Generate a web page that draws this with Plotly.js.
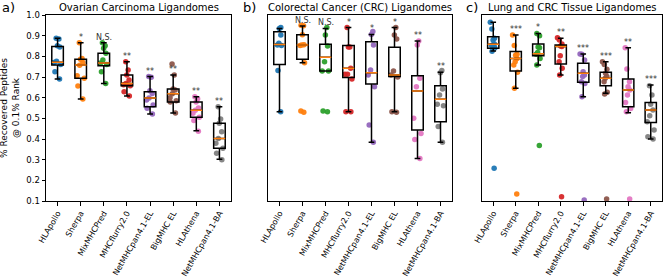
<!DOCTYPE html>
<html><head><meta charset="utf-8">
<script src="https://cdn.plot.ly/plotly-3.0.1.min.js"></script>
<style>html,body{margin:0;padding:0;background:#fff}#chart{width:667px;height:277px}</style>
</head><body><div id="chart"></div>
<script>
// Categories / tick labels
const methods = ['HLApollo','Sherpa','MixMHCPred','MHCflurry2.0','NetMHCpan4.1-EL','BigMHC EL','HLAthena','NetMHCpan4.1-BA'];
const colors = ['#1f77b4','#ff7f0e','#2ca02c','#d62728','#9467bd','#8c564b','#e377c2','#7f7f7f'];
const panelTitles = ['Ovarian Carcinoma Ligandomes','Colorectal Cancer (CRC) Ligandomes','Lung and CRC Tissue Ligandomes'];
const panelLetters = ['a)','b)','c)'];
const yTicks = [0.1,0.2,0.3,0.4,0.5,0.6,0.7,0.8,0.9,1.0];

// Panel a) Ovarian carcinoma: box statistics
const q1A  = [0.758,0.694,0.755,0.658,0.556,0.579,0.505,0.355];
const medA = [0.771,0.758,0.768,0.668,0.598,0.619,0.539,0.402];
const q3A  = [0.847,0.786,0.815,0.710,0.629,0.642,0.579,0.476];
const loA  = [0.690,0.594,0.669,0.608,0.521,0.526,0.440,0.302];
const hiA  = [0.887,0.866,0.866,0.774,0.702,0.710,0.605,0.556];
const sigA = ['','*','N.S.','**','**','**','**','**'];
// Panel a) per-sample points
const ptsA_HLApollo = [0.887,0.884,0.851,0.845,0.776,0.770,0.761,0.726,0.690];
const ptsA_Sherpa   = [0.866,0.790,0.786,0.770,0.757,0.706,0.694,0.657,0.594];
const ptsA_MixMHC   = [0.866,0.851,0.839,0.815,0.782,0.768,0.760,0.726,0.669];
const ptsA_Flurry   = [0.774,0.734,0.710,0.686,0.668,0.662,0.658,0.629,0.608];
const ptsA_NetEL    = [0.702,0.699,0.634,0.620,0.598,0.589,0.565,0.549,0.521];
const ptsA_BigMHC   = [0.763,0.710,0.642,0.637,0.619,0.600,0.585,0.579,0.526];
const ptsA_HLAthena = [0.605,0.595,0.579,0.550,0.539,0.525,0.505,0.490,0.437];
const ptsA_NetBA    = [0.556,0.497,0.476,0.435,0.403,0.380,0.355,0.331,0.300];

// Panel b) Colorectal cancer: box statistics
const q1B  = [0.761,0.786,0.729,0.697,0.666,0.702,0.444,0.484];
const medB = [0.857,0.855,0.795,0.742,0.721,0.710,0.632,0.592];
const q3B  = [0.919,0.905,0.858,0.852,0.871,0.844,0.706,0.658];
const loB  = [0.532,0.769,0.729,0.532,0.384,0.532,0.306,0.384];
const hiB  = [0.935,0.947,0.935,0.939,0.906,0.939,0.874,0.723];
const sigB = ['','N.S.','N.S.','*','*','*','**','**'];
const ptsB_HLApollo = [0.940,0.935,0.903,0.863,0.855,0.852,0.731,0.532];
const ptsB_Sherpa   = [0.950,0.948,0.905,0.856,0.855,0.853,0.769,0.535,0.530];
const ptsB_MixMHC   = [0.939,0.903,0.850,0.774,0.729,0.729,0.535,0.532];
const ptsB_Flurry   = [0.939,0.845,0.845,0.742,0.713,0.713,0.690,0.532,0.532];
const ptsB_NetEL    = [0.920,0.906,0.855,0.734,0.710,0.653,0.468,0.384];
const ptsB_BigMHC   = [0.939,0.903,0.884,0.729,0.710,0.700,0.532,0.529];
const ptsB_HLAthena = [0.874,0.855,0.694,0.653,0.500,0.427,0.398,0.306];
const ptsB_NetBA    = [0.731,0.720,0.642,0.613,0.568,0.561,0.460,0.384];

// Panel c) Lung and CRC tissue: box statistics
const q1C  = [0.839,0.729,0.803,0.763,0.674,0.658,0.556,0.480];
const medC = [0.858,0.790,0.813,0.847,0.718,0.694,0.637,0.540];
const q3C  = [0.895,0.823,0.860,0.855,0.766,0.723,0.690,0.577];
const loC  = [0.826,0.645,0.758,0.710,0.605,0.621,0.527,0.400];
const hiC  = [0.965,0.903,0.911,0.887,0.811,0.774,0.842,0.661];
const sigC = ['','***','*','**','***','***','**','***'];
const ptsC_HLApollo = [0.965,0.932,0.887,0.879,0.860,0.855,0.852,0.840,0.825,0.258];
const ptsC_Sherpa   = [0.903,0.852,0.810,0.805,0.790,0.774,0.758,0.723,0.645,0.134];
const ptsC_MixMHC   = [0.911,0.900,0.845,0.842,0.819,0.810,0.790,0.758,0.368];
const ptsC_Flurry   = [0.890,0.879,0.860,0.850,0.847,0.803,0.774,0.742,0.710,0.121];
const ptsC_NetEL    = [0.811,0.810,0.782,0.726,0.710,0.702,0.677,0.669,0.605,0.105];
const ptsC_BigMHC   = [0.774,0.761,0.737,0.718,0.702,0.694,0.677,0.626,0.618,0.110];
const ptsC_HLAthena = [0.842,0.739,0.677,0.653,0.637,0.613,0.577,0.548,0.532,0.110];
const ptsC_NetBA    = [0.658,0.613,0.568,0.540,0.513,0.484,0.444,0.411,0.400];

const panels = [
  {q1:q1A, med:medA, q3:q3A, lo:loA, hi:hiA, sig:sigA,
   pts:[ptsA_HLApollo,ptsA_Sherpa,ptsA_MixMHC,ptsA_Flurry,ptsA_NetEL,ptsA_BigMHC,ptsA_HLAthena,ptsA_NetBA]},
  {q1:q1B, med:medB, q3:q3B, lo:loB, hi:hiB, sig:sigB,
   pts:[ptsB_HLApollo,ptsB_Sherpa,ptsB_MixMHC,ptsB_Flurry,ptsB_NetEL,ptsB_BigMHC,ptsB_HLAthena,ptsB_NetBA]},
  {q1:q1C, med:medC, q3:q3C, lo:loC, hi:hiC, sig:sigC,
   pts:[ptsC_HLApollo,ptsC_Sherpa,ptsC_MixMHC,ptsC_Flurry,ptsC_NetEL,ptsC_BigMHC,ptsC_HLAthena,ptsC_NetBA]}
];

const W = 667, H = 277;
const xDom = [[46/W,231/W],[268/W,452/W],[482/W,662/W]];
const yDom = [(H-201)/H,(H-15)/H];
const pos = methods.map((m,i)=>i+1);
const FONT = 'DejaVu Sans, Liberation Sans, sans-serif';

const data = [];
const annotations = [];
const layout = {
  width: W, height: H,
  margin: {l:0,r:0,t:0,b:0},
  paper_bgcolor:'white', plot_bgcolor:'white',
  showlegend:false, boxmode:'overlay',
  font:{family:FONT, color:'black'},
  annotations: annotations
};

panels.forEach((p,k)=>{
  const sx = k===0 ? '' : String(k+1);
  const xa = 'x'+sx, ya = 'y'+sx;
  // jittered sample points (drawn underneath the boxes)
  p.pts.forEach((vals,i)=>{
    data.push({
      type:'box', x: vals.map(()=>pos[i]), y: vals, xaxis:xa, yaxis:ya,
      boxpoints:'all', jitter:0.8, pointpos:0, width:0.5,
      line:{width:0, color:'rgba(0,0,0,0)'}, fillcolor:'rgba(0,0,0,0)',
      marker:{color:colors[i], size:5.5, opacity:0.95},
      hoverinfo:'skip'
    });
  });
  // black boxes with whiskers
  data.push({
    type:'box', x:pos, q1:p.q1, median:p.med, q3:p.q3, lowerfence:p.lo, upperfence:p.hi,
    xaxis:xa, yaxis:ya, boxpoints:false, width:0.5, whiskerwidth:0.5,
    line:{color:'black', width:1.5}, fillcolor:'rgba(0,0,0,0)', hoverinfo:'skip'
  });
  // orange median lines
  data.push({
    type:'box', x:pos, q1:p.med, median:p.med, q3:p.med, lowerfence:p.med, upperfence:p.med,
    xaxis:xa, yaxis:ya, boxpoints:false, width:0.5, whiskerwidth:0,
    line:{color:'#ff7f0e', width:1.5}, fillcolor:'rgba(0,0,0,0)', hoverinfo:'skip'
  });
  // significance markers
  p.sig.forEach((s,i)=>{
    if(!s) return;
    annotations.push({x:pos[i], y:p.hi[i], xref:xa, yref:ya, text:s, showarrow:false,
      yanchor:'bottom', yshift:-1, font:{size:8, color:'#333', family:FONT}});
  });
  // panel title
  annotations.push({x:(xDom[k][0]+xDom[k][1])/2, y:1-7.5/H, xref:'paper', yref:'paper',
    text:panelTitles[k], showarrow:false, xanchor:'center', yanchor:'middle',
    font:{size:10, color:'black', family:FONT}});

  layout['xaxis'+sx] = {
    domain:xDom[k], anchor:ya, range:[0.5,8.5], tickvals:pos, ticktext:methods,
    tickangle:-60, ticks:'outside', ticklen:3.5, tickwidth:1, tickcolor:'black',
    showline:true, mirror:true, linecolor:'black', linewidth:1,
    showgrid:false, zeroline:false, automargin:false,
    tickfont:{size:8, color:'black', family:FONT}
  };
  layout['yaxis'+sx] = {
    domain:yDom, anchor:xa, range:[0.1,1.0], tickvals:yTicks,
    ticktext: yTicks.map(v=>v.toFixed(1)),
    ticks: k===0 ? 'outside' : '', ticklen:3.5, tickwidth:1, tickcolor:'black',
    showticklabels: k===0,
    showline:true, mirror:true, linecolor:'black', linewidth:1,
    showgrid:false, zeroline:false, automargin:false,
    tickfont:{size:8.5, color:'black', family:FONT}
  };
});

const letterX = [0, 241, 464];
panelLetters.forEach((t,k)=>{
  annotations.push({x:letterX[k]/W, y:1-8/H, xref:'paper', yref:'paper', text:t,
    showarrow:false, xanchor:'left', yanchor:'middle', font:{size:13, color:'black', family:FONT}});
});
// y-axis title
annotations.push({x:10/W, y:(yDom[0]+yDom[1])/2, xref:'paper', yref:'paper',
  text:'% Recovered Peptides<br>@ 0.1% Rank', textangle:-90, showarrow:false,
  xanchor:'center', yanchor:'middle', font:{size:9, color:'black', family:FONT}});

Plotly.newPlot('chart', data, layout, {staticPlot:true, displayModeBar:false});
</script>
</body></html>
